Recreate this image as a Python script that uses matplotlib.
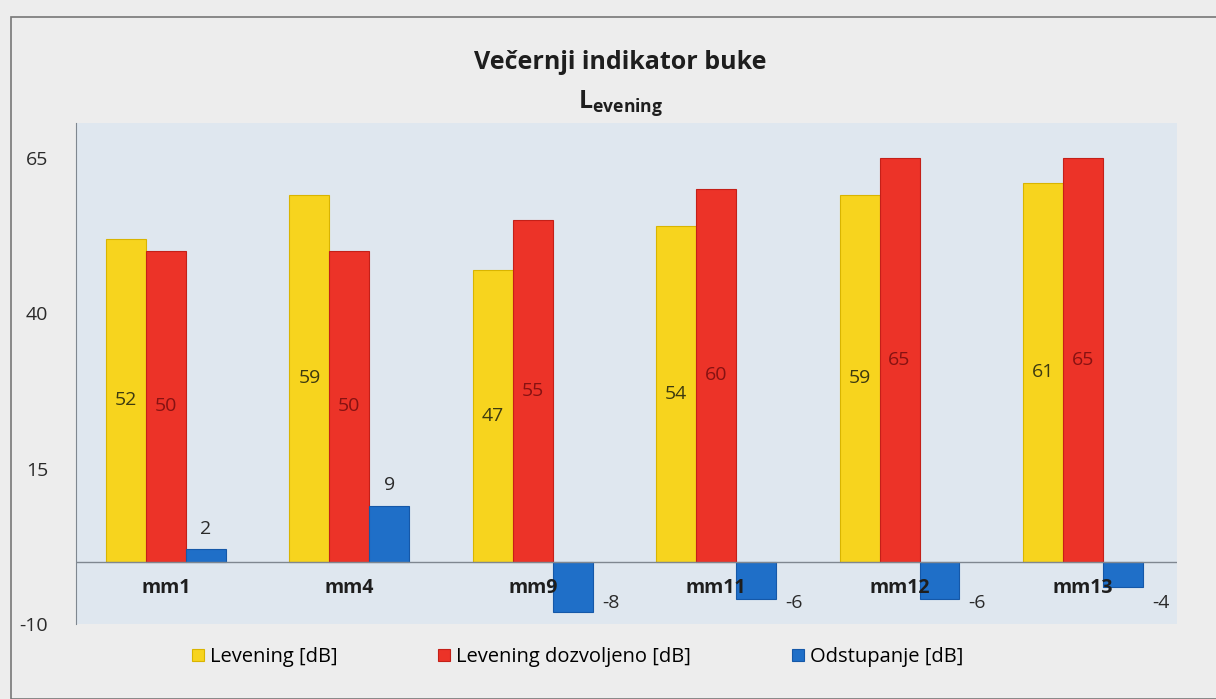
import matplotlib.pyplot as plt
import numpy as np
from matplotlib.patches import Rectangle

plt.rcParams['font.family'] = ['Open Sans', 'DejaVu Sans']
plt.rcParams['mathtext.fontset'] = 'custom'
plt.rcParams['mathtext.rm'] = 'Open Sans'
plt.rcParams['mathtext.bf'] = 'Open Sans:bold'

# data
mjesta = ['mm1', 'mm4', 'mm9', 'mm11', 'mm12', 'mm13']
levening = [52, 59, 47, 54, 59, 61]
dozvoljeno = [50, 50, 55, 60, 65, 65]
odstupanje = [2, 9, -8, -6, -6, -4]
y_ticks = [-10, 15, 40, 65]

zuta = '#f7d41e'
crvena = '#ec3328'
plava = '#1f6fc8'

fig = plt.figure(figsize=(12.16, 6.99), dpi=100)
fig.patch.set_facecolor('#ededed')

# okvir
fig.patches.append(Rectangle((11 / 1216, 0), 1.0, 1 - 17 / 699, transform=fig.transFigure,
                             fill=False, edgecolor='#777777', linewidth=1.2))

ax = fig.add_axes([0.0625, 0.1073, 0.9054, 0.7167])
ax.set_facecolor('#dfe7ef')

x = np.arange(len(mjesta))
w = 0.218

b1 = ax.bar(x - w, levening, w, color=zuta, edgecolor='#d9b400', linewidth=0.8, label='Levening [dB]')
b2 = ax.bar(x, dozvoljeno, w, color=crvena, edgecolor='#c42018', linewidth=0.8, label='Levening dozvoljeno [dB]')
b3 = ax.bar(x + w, odstupanje, w, color=plava, edgecolor='#1558a8', linewidth=0.8, label='Odstupanje [dB]')

ax.axhline(0, color='#7f8790', linewidth=1.0)

for i in range(len(mjesta)):
    ax.text(x[i] - w, levening[i] / 2, str(levening[i]), ha='center', va='center',
            fontsize=14, color='#3d3a10')
    ax.text(x[i], dozvoljeno[i] / 2, str(dozvoljeno[i]), ha='center', va='center',
            fontsize=14, color='#861212')
    v = odstupanje[i]
    if v >= 0:
        ax.text(x[i] + w, v + 3.3, str(v), ha='center', va='center', fontsize=14, color='#2a2a2a')
    else:
        ax.text(x[i] + 1.5 * w + 0.05, -6.6, str(v), ha='left', va='center', fontsize=14, color='#2a2a2a')
    ax.text(x[i], -4.2, mjesta[i], ha='center', va='center', fontsize=14, fontweight='bold', color='#1e1e1e')

ax.set_xlim(-0.491, 5.513)
ax.set_ylim(-10, 70.6)
ax.set_xticks([])
ax.set_yticks(y_ticks)
ax.set_yticklabels([str(t) for t in y_ticks], fontsize=14, color='#2a2a2a')
ax.tick_params(axis='y', length=0, pad=20)
for s in ['top', 'right', 'bottom']:
    ax.spines[s].set_visible(False)
ax.spines['left'].set_color('#7f8790')

fig.text(0.51, 0.911, 'Večernji indikator buke', ha='center', va='center',
         fontsize=18, fontweight='bold', color='#1e1e1e')
fig.text(0.51, 0.853, r'$\mathbf{L}_{\mathbf{evening}}$', ha='center', va='center',
         fontsize=18, color='#1e1e1e')

fig.legend(handles=[b1, b2, b3], loc='center', bbox_to_anchor=(0.475, 0.06), ncol=3,
           frameon=False, fontsize=14.5, handlelength=0.6, handleheight=0.6,
           handletextpad=0.3, columnspacing=5.0)

fig.savefig('out.png', dpi=100, facecolor=fig.get_facecolor())
